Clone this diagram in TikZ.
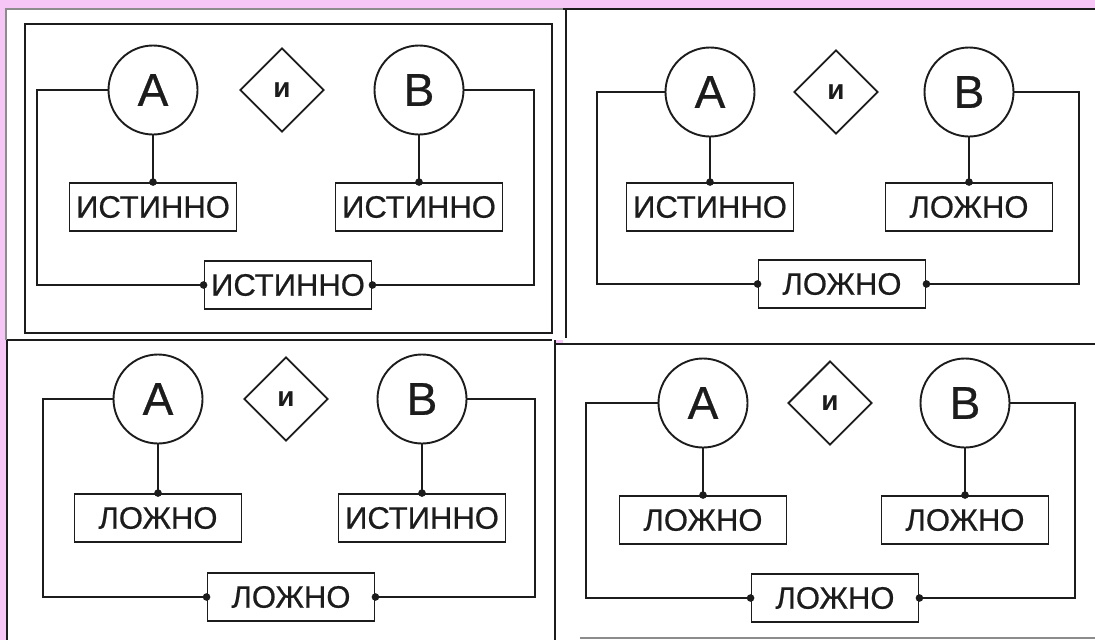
\documentclass[tikz,border=0pt]{standalone}
\usepackage{fontspec}
\setmainfont{Liberation Sans}
\newfontfamily\heavyfont[FakeBold=0.6]{Liberation Sans}
\usetikzlibrary{shapes.geometric}
\definecolor{bgpink}{RGB}{246,198,246}
\definecolor{ink}{RGB}{28,28,28}
\tikzset{
  ln/.style={line width=1.9pt, draw=ink},
  frame/.style={line width=1.6pt, draw=ink},
  faint/.style={line width=1.2pt, draw=black!45},
  var/.style={circle, ln, minimum size=89pt, inner sep=0pt, font=\heavyfont\fontsize{46}{46}\selectfont, text=ink},
  op/.style={diamond, ln, minimum width=84pt, minimum height=84pt, inner sep=0pt, font=\bfseries\fontsize{28}{28}\selectfont, text=ink},
  val/.style={rectangle, ln, minimum width=167pt, minimum height=48pt, inner sep=0pt, font=\heavyfont\fontsize{31}{31}\selectfont, text=ink},
  wire/.style={ln},
}
\begin{document}
\begin{tikzpicture}[x=1pt,y=-1pt]
\fill[bgpink] (0,0) rectangle (1095,640);
\useasboundingbox (0,0) rectangle (1095,640);
% white panels
\fill[white] (6,8) rectangle (563,340);
\fill[white] (563,8) rectangle (1095,344);
\fill[white] (7,340) rectangle (555,640);
\fill[white] (555,344) rectangle (1095,640);
% panel frames
\draw[faint] (6,340) -- (6,9) -- (563,9);
\draw[frame] (563,9) -- (1095,9);
\draw[frame] (25,24) rectangle (552,333);
\draw[frame] (566,9) -- (566,338);
\draw[frame] (7,340) -- (552,340);
\draw[frame] (7,340) -- (7,640);
\draw[frame] (555,340) -- (555,640);
\draw[frame] (555,344) -- (1095,344);
\draw[faint] (580,638) -- (1095,638);
% the four diagrams
\foreach \p/\ax/\ay/\dx/\bx/\lx/\rx/\by/\cx/\cy/\ta/\tb/\tc in {
  1/153/90/282/419/37/534/207/288/285/ИСТИННО/ИСТИННО/ИСТИННО,
  2/710/92/836/969/597/1079/207/842/284/ИСТИННО/ЛОЖНО/ЛОЖНО,
  3/158/399/286/422/43/535/518/291/597/ЛОЖНО/ИСТИННО/ЛОЖНО,
  4/703/403/830/965/586/1075/520/835/598/ЛОЖНО/ЛОЖНО/ЛОЖНО}{
  \node[var] (A\p) at (\ax,\ay) {A};
  \node[op] (D\p) at (\dx,\ay) {и};
  \node[var] (B\p) at (\bx,\ay) {B};
  \node[val] (VA\p) at (\ax,\by) {\ta};
  \node[val] (VB\p) at (\bx,\by) {\tb};
  \node[val] (VC\p) at (\cx,\cy) {\tc};
  \coordinate (L\p) at (\lx,\ay);
  \coordinate (R\p) at (\rx,\ay);
  \draw[wire] (A\p.south) -- (VA\p.north);
  \draw[wire] (B\p.south) -- (VB\p.north);
  \draw[wire] (A\p.west) -- (L\p) |- (VC\p.west);
  \draw[wire] (B\p.east) -- (R\p) |- (VC\p.east);
  \fill[ink] (VA\p.north) circle[radius=3.8pt];
  \fill[ink] (VB\p.north) circle[radius=3.8pt];
  \fill[ink] (VC\p.west) circle[radius=3.8pt];
  \fill[ink] (VC\p.east) circle[radius=3.8pt];
}
\end{tikzpicture}
\end{document}
